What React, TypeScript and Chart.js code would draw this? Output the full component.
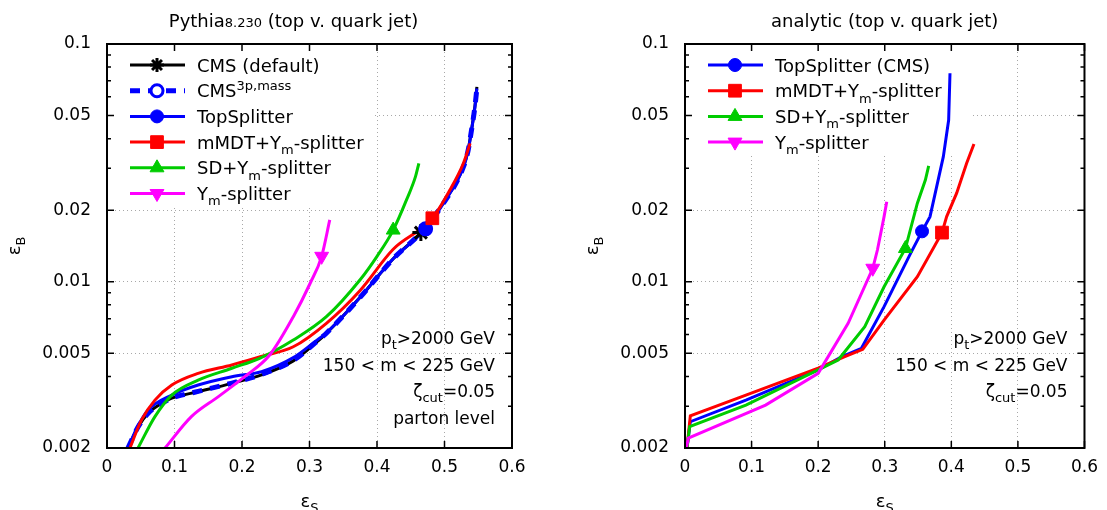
import React, { useEffect, useRef } from "react";
import { Chart, registerables } from "chart.js";

Chart.register(...registerables);

const FONT = "'DejaVu Sans', 'Liberation Sans', sans-serif";

// ---------- axes ----------
const xTickValues = [0, 0.1, 0.2, 0.3, 0.4, 0.5, 0.6];
const xTickLabels = ["0", "0.1", "0.2", "0.3", "0.4", "0.5", "0.6"];
const yMajorTicks = [0.002, 0.005, 0.01, 0.02, 0.05, 0.1];
const yMajorLabels = ["0.002", "0.005", "0.01", "0.02", "0.05", "0.1"];
const yMinorTicks = [0.003, 0.004, 0.006, 0.007, 0.008, 0.009, 0.03, 0.04, 0.06, 0.07, 0.08, 0.09];

// ---------- left panel: Pythia ----------
const pyCmsX = [0.031, 0.046, 0.061, 0.081, 0.096, 0.135, 0.185, 0.229, 0.276, 0.308, 0.325, 0.375, 0.424, 0.466, 0.498, 0.528, 0.535, 0.54, 0.545, 0.548];
const pyCmsY = [0.002, 0.00245, 0.0028, 0.00308, 0.00324, 0.00345, 0.00374, 0.00406, 0.00465, 0.0055, 0.00607, 0.0086, 0.0125, 0.0162, 0.0214, 0.0305, 0.0358, 0.0435, 0.0545, 0.066];
const pyCms3pX = [0.031, 0.046, 0.061, 0.081, 0.096, 0.135, 0.185, 0.229, 0.276, 0.308, 0.325, 0.375, 0.424, 0.466, 0.498, 0.528, 0.535, 0.54, 0.545, 0.548];
const pyCms3pY = [0.002, 0.00245, 0.0028, 0.00308, 0.00324, 0.00346, 0.00375, 0.00408, 0.00467, 0.00552, 0.00608, 0.0086, 0.0125, 0.0162, 0.0213, 0.0304, 0.0357, 0.0434, 0.0543, 0.065];
const pyTopX = [0.031, 0.046, 0.061, 0.096, 0.135, 0.185, 0.229, 0.276, 0.308, 0.325, 0.375, 0.424, 0.472, 0.498, 0.528, 0.535, 0.54, 0.545, 0.548];
const pyTopY = [0.002, 0.00248, 0.00289, 0.00334, 0.00368, 0.00399, 0.00419, 0.0048, 0.0056, 0.0061, 0.0086, 0.0125, 0.0167, 0.0213, 0.0303, 0.0356, 0.0433, 0.054, 0.065];
const pyMmdtX = [0.034, 0.051, 0.071, 0.096, 0.135, 0.185, 0.227, 0.276, 0.325, 0.375, 0.424, 0.482, 0.508, 0.528, 0.538];
const pyMmdtY = [0.002, 0.00262, 0.00318, 0.00368, 0.00412, 0.00447, 0.00484, 0.00533, 0.00669, 0.0092, 0.0137, 0.0185, 0.0243, 0.0315, 0.0382];
const pySdX = [0.046, 0.071, 0.096, 0.135, 0.185, 0.227, 0.276, 0.325, 0.375, 0.4, 0.424, 0.444, 0.457, 0.462];
const pySdY = [0.002, 0.00271, 0.00334, 0.00386, 0.00433, 0.00478, 0.00569, 0.00713, 0.0102, 0.0128, 0.0165, 0.0222, 0.0277, 0.0315];
const pyYmX = [0.086, 0.125, 0.165, 0.204, 0.241, 0.276, 0.301, 0.318, 0.33];
const pyYmY = [0.002, 0.00271, 0.00329, 0.00399, 0.00492, 0.00713, 0.00986, 0.0128, 0.0182];
// working-point markers (CMS, CMS3p, TopSplitter, mMDT, SD, Ym)
const pyMarkX = [0.465, 0.472, 0.472, 0.482, 0.424, 0.318];
const pyMarkY = [0.0161, 0.0167, 0.0167, 0.0185, 0.0165, 0.0128];

// ---------- right panel: analytic ----------
const anTopX = [0.003, 0.008, 0.0915, 0.2, 0.235, 0.265, 0.299, 0.339, 0.356, 0.368, 0.388, 0.396, 0.398];
const anTopY = [0.002, 0.00258, 0.00318, 0.00426, 0.00484, 0.00525, 0.00786, 0.0132, 0.0163, 0.0188, 0.0336, 0.0479, 0.0753];
const anMmdtX = [0.003, 0.008, 0.0915, 0.2, 0.24, 0.267, 0.299, 0.349, 0.386, 0.393, 0.408, 0.423, 0.434];
const anMmdtY = [0.002, 0.00273, 0.00334, 0.00433, 0.00484, 0.0052, 0.0069, 0.0105, 0.0161, 0.0188, 0.0236, 0.0315, 0.038];
const anSdX = [0.003, 0.007, 0.0915, 0.2, 0.23, 0.27, 0.299, 0.331, 0.349, 0.361, 0.366];
const anSdY = [0.002, 0.00246, 0.00303, 0.00426, 0.00469, 0.00648, 0.00953, 0.0138, 0.0214, 0.0268, 0.0307];
const anYmX = [0.002, 0.005, 0.121, 0.2, 0.245, 0.282, 0.289, 0.299, 0.303];
const anYmY = [0.002, 0.0022, 0.00303, 0.00412, 0.00669, 0.0114, 0.0136, 0.0188, 0.0217];
// working-point markers (TopSplitter, mMDT, SD, Ym)
const anMarkX = [0.356, 0.386, 0.331, 0.282];
const anMarkY = [0.0163, 0.0161, 0.0138, 0.0114];

type Seg = { t: string; sub?: boolean; sup?: boolean; small?: boolean };

interface Series {
  label: Seg[];
  x: number[];
  y: number[];
  mx: number;
  my: number;
  color: string;
  width: number;
  dash?: number[];
  pointStyle: string;
  radius: number;
  rotation?: number;
  hollow?: boolean;
}

const BLACK = "#000000";
const BLUE = "#0000ff";
const RED = "#ff0000";
const GREEN = "#00cc00";
const MAGENTA = "#ff00ff";

const ymSplitter = (pre: string): Seg[] => [{ t: pre + "Y" }, { t: "m", sub: true }, { t: "-splitter" }];

const leftSeries: Series[] = [
  { label: [{ t: "CMS (default)" }], x: pyCmsX, y: pyCmsY, mx: pyMarkX[0], my: pyMarkY[0], color: BLACK, width: 3, pointStyle: "star", radius: 8.5 },
  { label: [{ t: "CMS" }, { t: "3p,mass", sup: true }], x: pyCms3pX, y: pyCms3pY, mx: pyMarkX[1], my: pyMarkY[1], color: BLUE, width: 5, dash: [10, 8], pointStyle: "circle", radius: 6, hollow: true },
  { label: [{ t: "TopSplitter" }], x: pyTopX, y: pyTopY, mx: pyMarkX[2], my: pyMarkY[2], color: BLUE, width: 3, pointStyle: "circle", radius: 6.5 },
  { label: ymSplitter("mMDT+"), x: pyMmdtX, y: pyMmdtY, mx: pyMarkX[3], my: pyMarkY[3], color: RED, width: 3, pointStyle: "rect", radius: 9 },
  { label: ymSplitter("SD+"), x: pySdX, y: pySdY, mx: pyMarkX[4], my: pyMarkY[4], color: GREEN, width: 3, pointStyle: "triangle", radius: 8 },
  { label: ymSplitter(""), x: pyYmX, y: pyYmY, mx: pyMarkX[5], my: pyMarkY[5], color: MAGENTA, width: 3, pointStyle: "triangle", radius: 8, rotation: 180 },
];

const rightSeries: Series[] = [
  { label: [{ t: "TopSplitter (CMS)" }], x: anTopX, y: anTopY, mx: anMarkX[0], my: anMarkY[0], color: BLUE, width: 3, pointStyle: "circle", radius: 6.5 },
  { label: ymSplitter("mMDT+"), x: anMmdtX, y: anMmdtY, mx: anMarkX[1], my: anMarkY[1], color: RED, width: 3, pointStyle: "rect", radius: 9 },
  { label: ymSplitter("SD+"), x: anSdX, y: anSdY, mx: anMarkX[2], my: anMarkY[2], color: GREEN, width: 3, pointStyle: "triangle", radius: 8 },
  { label: ymSplitter(""), x: anYmX, y: anYmY, mx: anMarkX[3], my: anMarkY[3], color: MAGENTA, width: 3, pointStyle: "triangle", radius: 8, rotation: 180 },
];

const leftTitle: Seg[] = [{ t: "Pythia" }, { t: "8.230", small: true }, { t: " (top v. quark jet)" }];
const rightTitle: Seg[] = [{ t: "analytic (top v. quark jet)" }];

const leftNotes: Seg[][] = [
  [{ t: "p" }, { t: "t", sub: true }, { t: ">2000 GeV" }],
  [{ t: "150 < m < 225 GeV" }],
  [{ t: "ζ" }, { t: "cut", sub: true }, { t: "=0.05" }],
  [{ t: "parton level" }],
];
const rightNotes: Seg[][] = leftNotes.slice(0, 3);

const xTitle: Seg[] = [{ t: "ε" }, { t: "S", sub: true }];
const yTitle: Seg[] = [{ t: "ε" }, { t: "B", sub: true }];

// ---------- drawing helpers ----------
const FS_TICK = 17;
const FS_TEXT = 18;
const FS_NOTE = 17;

function segFont(s: Seg, size: number) {
  const sz = s.sub || s.sup || s.small ? Math.round(size * 0.74) : size;
  return `${sz}px ${FONT}`;
}

function richWidth(ctx: CanvasRenderingContext2D, segs: Seg[], size: number) {
  let w = 0;
  for (const s of segs) {
    ctx.font = segFont(s, size);
    w += ctx.measureText(s.t).width;
  }
  return w;
}

function drawRich(ctx: CanvasRenderingContext2D, segs: Seg[], x: number, y: number, size: number, align: string) {
  const w = richWidth(ctx, segs, size);
  let cx = align === "right" ? x - w : align === "center" ? x - w / 2 : x;
  ctx.textAlign = "left";
  ctx.textBaseline = "alphabetic";
  for (const s of segs) {
    ctx.font = segFont(s, size);
    const dy = s.sub ? size * 0.3 : s.sup ? -size * 0.42 : 0;
    ctx.fillText(s.t, cx, y + dy);
    cx += ctx.measureText(s.t).width;
  }
}

function drawMarker(ctx: CanvasRenderingContext2D, s: Series, x: number, y: number, legend: boolean) {
  const r = legend && s.pointStyle === "star" ? 7 : s.radius;
  ctx.save();
  ctx.translate(x, y);
  ctx.rotate(((s.rotation || 0) * Math.PI) / 180);
  ctx.beginPath();
  if (s.pointStyle === "circle") {
    ctx.arc(0, 0, r, 0, Math.PI * 2);
  } else if (s.pointStyle === "rect") {
    const h = r * Math.SQRT1_2;
    ctx.rect(-h, -h, 2 * h, 2 * h);
  } else if (s.pointStyle === "triangle") {
    for (let k = 0; k < 3; k++) {
      const a = (k * 2 * Math.PI) / 3;
      const px = r * Math.sin(a);
      const py = -r * Math.cos(a);
      if (k === 0) ctx.moveTo(px, py);
      else ctx.lineTo(px, py);
    }
    ctx.closePath();
  } else if (s.pointStyle === "star") {
    for (let k = 0; k < 4; k++) {
      const a = (k * Math.PI) / 4;
      ctx.moveTo(-r * Math.cos(a), -r * Math.sin(a));
      ctx.lineTo(r * Math.cos(a), r * Math.sin(a));
    }
  }
  if (s.pointStyle !== "star") {
    ctx.fillStyle = s.hollow ? "#ffffff" : s.color;
    ctx.fill();
  }
  ctx.strokeStyle = s.color;
  ctx.lineWidth = s.pointStyle === "star" || s.hollow ? 3 : 1;
  ctx.stroke();
  ctx.restore();
}

const ROW_H = 25.7;
const LEGEND_FIRST = 21;

const decorPlugin = {
  id: "decor",
  beforeDatasetsDraw(chart: any, _args: any, o: any) {
    const { ctx, chartArea: a } = chart;
    ctx.save();
    ctx.fillStyle = "#ffffff";
    const h = LEGEND_FIRST + (o.series.length - 1) * ROW_H + 13;
    ctx.fillRect(a.left, a.top, o.legendBoxW, h);
    ctx.restore();
  },
  afterDraw(chart: any, _args: any, o: any) {
    const { ctx, chartArea: a } = chart;
    const xs = chart.scales.x;
    const ys = chart.scales.y;
    ctx.save();
    // inward ticks on all four sides
    ctx.strokeStyle = "#000";
    ctx.lineWidth = 1.5;
    ctx.beginPath();
    for (const v of xTickValues) {
      const px = xs.getPixelForValue(v);
      ctx.moveTo(px, a.bottom);
      ctx.lineTo(px, a.bottom - 7);
      ctx.moveTo(px, a.top);
      ctx.lineTo(px, a.top + 7);
    }
    for (const v of yMajorTicks) {
      const py = ys.getPixelForValue(v);
      ctx.moveTo(a.left, py);
      ctx.lineTo(a.left + 7, py);
      ctx.moveTo(a.right, py);
      ctx.lineTo(a.right - 7, py);
    }
    for (const v of yMinorTicks) {
      const py = ys.getPixelForValue(v);
      ctx.moveTo(a.left, py);
      ctx.lineTo(a.left + 4, py);
      ctx.moveTo(a.right, py);
      ctx.lineTo(a.right - 4, py);
    }
    ctx.stroke();
    // frame
    ctx.lineWidth = 2;
    ctx.strokeRect(a.left, a.top, a.right - a.left, a.bottom - a.top);

    // legend
    o.series.forEach((s: Series, i: number) => {
      const cy = a.top + LEGEND_FIRST + i * ROW_H;
      ctx.save();
      ctx.strokeStyle = s.color;
      ctx.lineWidth = s.width;
      ctx.setLineDash(s.dash || []);
      ctx.beginPath();
      ctx.moveTo(a.left + 23, cy);
      ctx.lineTo(a.left + 78, cy);
      ctx.stroke();
      ctx.restore();
      drawMarker(ctx, s, a.left + 50, cy, true);
      ctx.fillStyle = "#000";
      drawRich(ctx, s.label, a.left + 90, cy + 6.5, FS_TEXT, "left");
    });

    ctx.fillStyle = "#000";
    // title
    drawRich(ctx, o.title, (a.left + a.right) / 2 + o.titleShift, 27, FS_TEXT, "center");
    // annotations
    o.notes.forEach((segs: Seg[], i: number) => {
      drawRich(ctx, segs, a.right - 17, a.top + 300 + i * 26.5, FS_NOTE, "right");
    });
    // axis titles
    drawRich(ctx, xTitle, (a.left + a.right) / 2, a.bottom + 59, FS_TEXT, "center");
    ctx.save();
    ctx.translate(a.left - 87, (a.top + a.bottom) / 2);
    ctx.rotate(-Math.PI / 2);
    drawRich(ctx, yTitle, 0, 0, FS_TEXT, "center");
    ctx.restore();
    ctx.restore();
  },
};

interface PanelCfg {
  series: Series[];
  title: Seg[];
  titleShift: number;
  notes: Seg[][];
  smooth: boolean;
  yAxisWidth: number;
  padRight: number;
  legendBoxW: number;
}

function buildConfig(p: PanelCfg): any {
  const curves = p.series.map((s, i) => ({
    type: "line",
    data: s.x.map((x, j) => ({ x, y: s.y[j] })),
    borderColor: s.color,
    borderWidth: s.width,
    borderDash: s.dash || [],
    pointRadius: 0,
    pointHitRadius: 0,
    fill: false,
    tension: 0,
    cubicInterpolationMode: p.smooth ? "monotone" : "default",
    order: 100 - i,
  }));
  const marks = p.series.map((s, i) => ({
    type: "line",
    data: [{ x: s.mx, y: s.my }],
    showLine: false,
    pointStyle: s.pointStyle,
    pointRadius: s.radius,
    pointRotation: s.rotation || 0,
    pointBackgroundColor: s.hollow ? "#ffffff" : s.color,
    pointBorderColor: s.color,
    pointBorderWidth: s.pointStyle === "star" || s.hollow ? 3 : 1,
    order: 50 - i,
  }));
  const gridColor = "#a8a8a8";
  const tickFont = { family: FONT, size: FS_TICK };
  return {
    type: "line",
    data: { datasets: [...curves, ...marks] },
    options: {
      responsive: false,
      animation: false,
      events: [],
      devicePixelRatio: 1,
      layout: { padding: { left: 0, right: p.padRight, top: 44, bottom: 0 } },
      plugins: {
        legend: { display: false },
        tooltip: { enabled: false },
        title: { display: false },
        decor: { series: p.series, title: p.title, titleShift: p.titleShift, notes: p.notes, legendBoxW: p.legendBoxW },
      },
      scales: {
        x: {
          type: "linear",
          min: 0,
          max: 0.6,
          afterBuildTicks: (ax: any) => {
            ax.ticks = xTickValues.map((v) => ({ value: v }));
          },
          afterFit: (s: any) => {
            s.height = 62;
          },
          ticks: {
            callback: (_v: any, i: number) => xTickLabels[i],
            font: tickFont,
            color: "#000",
            padding: 9,
            autoSkip: false,
            maxRotation: 0,
          },
          grid: { color: gridColor, lineWidth: 1, drawTicks: false },
          border: { display: false, dash: [1, 3] },
        },
        y: {
          type: "logarithmic",
          min: 0.002,
          max: 0.1,
          afterBuildTicks: (ax: any) => {
            ax.ticks = yMajorTicks.map((v) => ({ value: v }));
          },
          afterFit: (s: any) => {
            s.width = p.yAxisWidth;
          },
          ticks: {
            callback: (_v: any, i: number) => yMajorLabels[i],
            font: tickFont,
            color: "#000",
            padding: 16,
            autoSkip: false,
          },
          grid: { color: gridColor, lineWidth: 1, drawTicks: false },
          border: { display: false, dash: [1, 3] },
        },
      },
    },
    plugins: [decorPlugin],
  };
}

function Panel({ cfg, left, width }: { cfg: PanelCfg; left: number; width: number }) {
  const ref = useRef<HTMLCanvasElement>(null);
  useEffect(() => {
    const chart = new Chart(ref.current as HTMLCanvasElement, buildConfig(cfg));
    return () => chart.destroy();
  }, []);
  return (
    <canvas
      ref={ref}
      width={width}
      height={510}
      style={{ position: "absolute", left, top: 0, width, height: 510 }}
    />
  );
}

const leftCfg: PanelCfg = {
  series: leftSeries,
  title: leftTitle,
  titleShift: -16,
  notes: leftNotes,
  smooth: true,
  yAxisWidth: 107,
  padRight: 48,
  legendBoxW: 265,
};

const rightCfg: PanelCfg = {
  series: rightSeries,
  title: rightTitle,
  titleShift: 0,
  notes: rightNotes,
  smooth: false,
  yAxisWidth: 125,
  padRight: 18,
  legendBoxW: 287,
};

export default function App() {
  return (
    <div style={{ position: "absolute", left: 0, top: 0, width: 1107, height: 510, background: "#fff", overflow: "hidden" }}>
      <Panel cfg={leftCfg} left={0} width={560} />
      <Panel cfg={rightCfg} left={560} width={547} />
    </div>
  );
}
